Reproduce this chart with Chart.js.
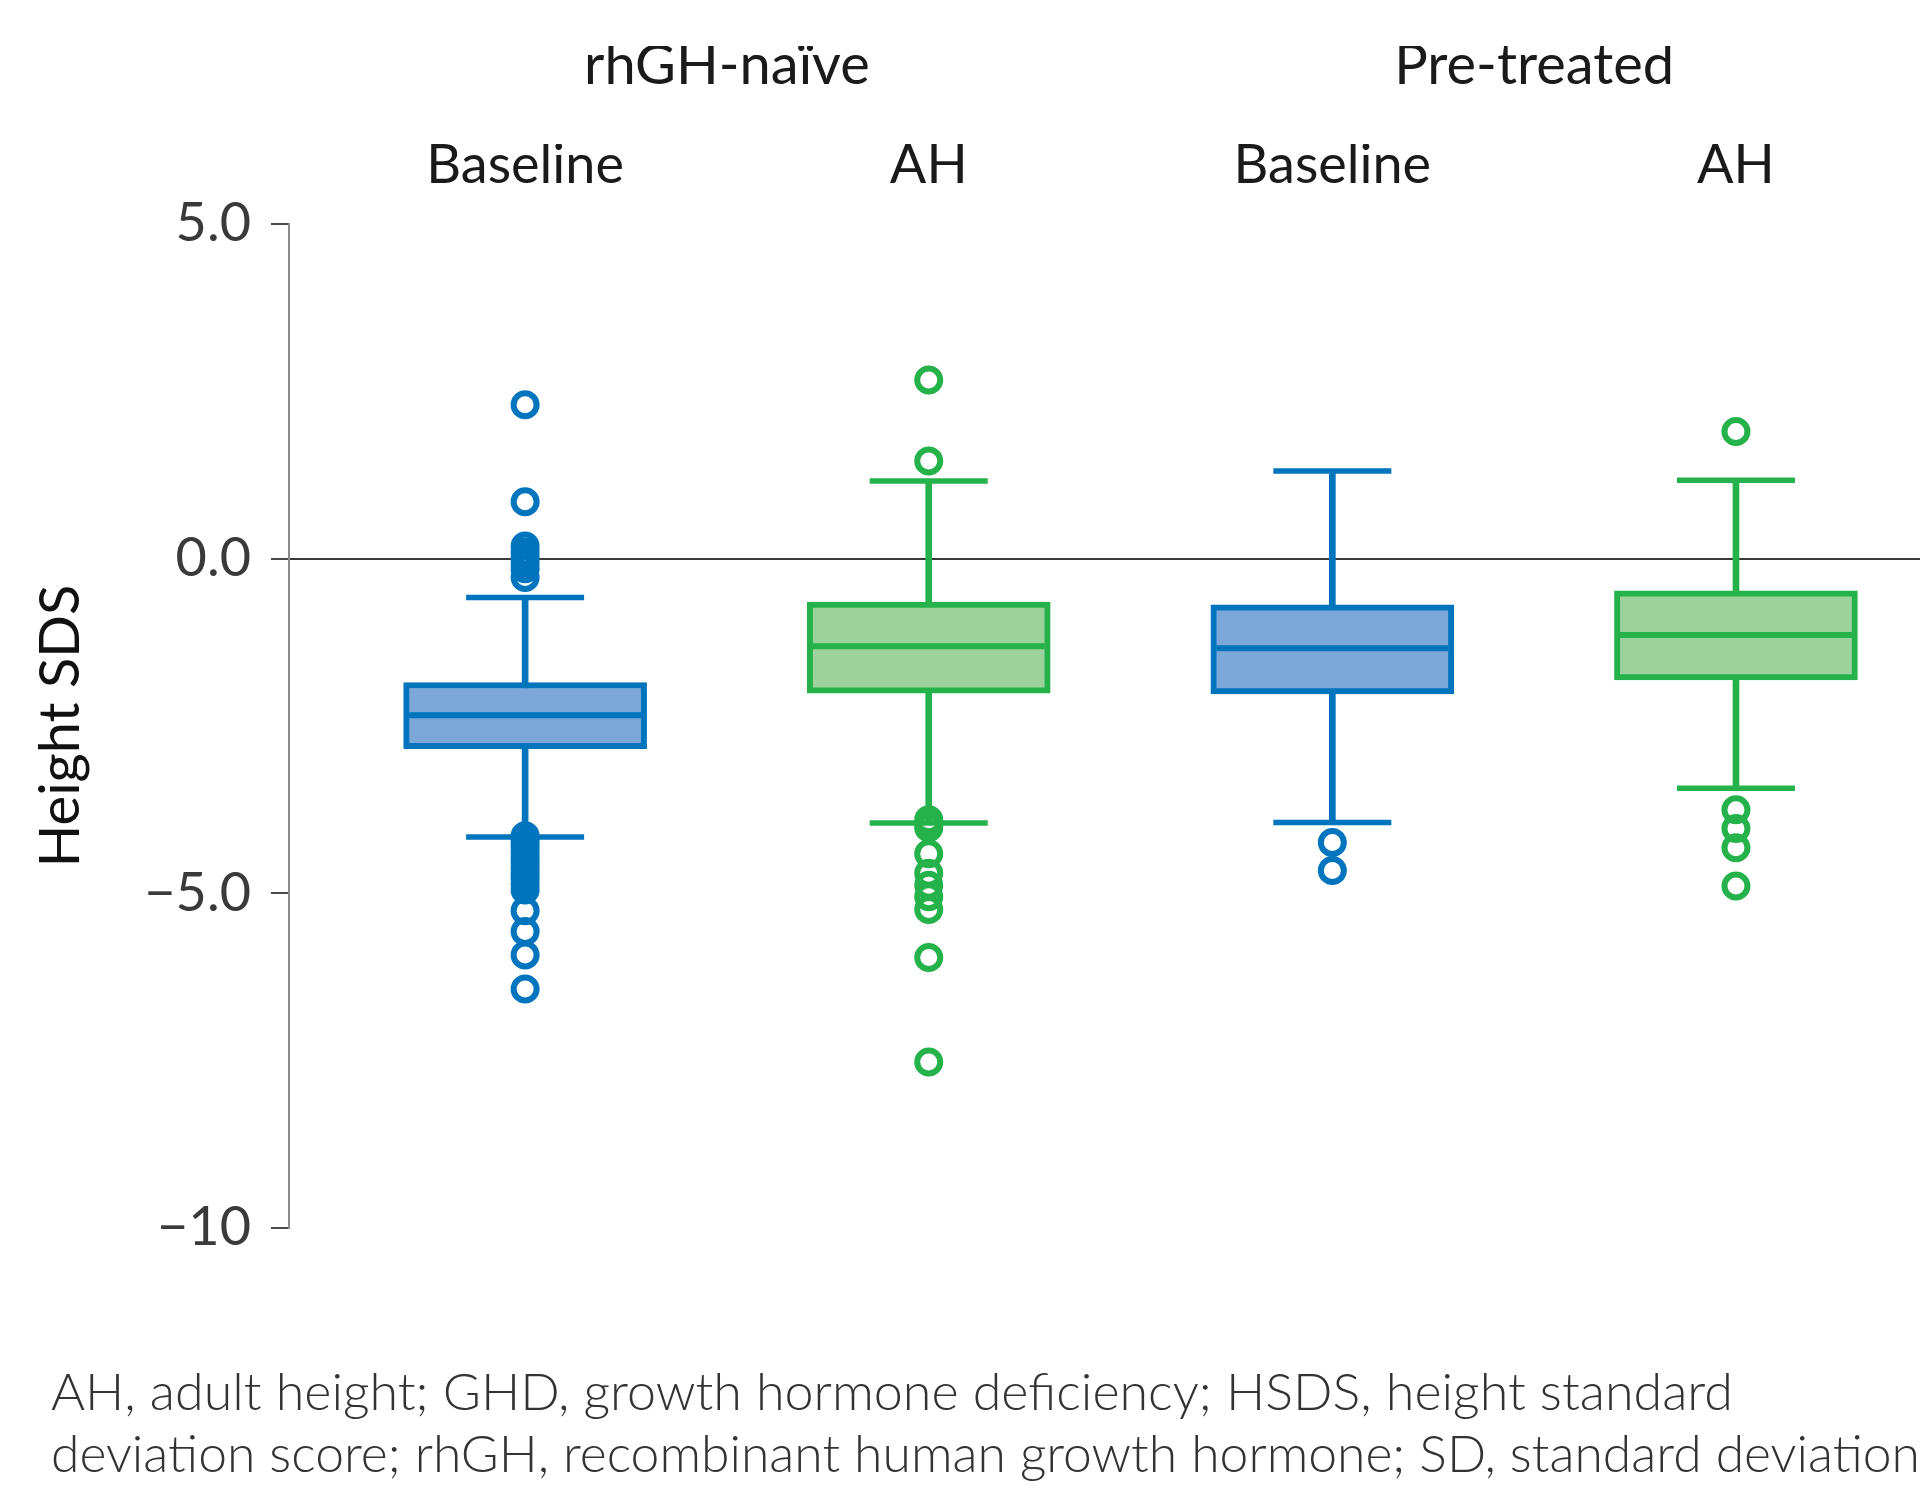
<!DOCTYPE html>
<html>
<head>
<meta charset="utf-8">
<script src="https://cdn.jsdelivr.net/npm/chart.js@4/dist/chart.umd.min.js"></script>
<style>
  html, body { margin: 0; padding: 0; background: #fff; }
  canvas { display: block; }
</style>
</head>
<body>
<canvas id="box-chart" width="1920" height="1486"></canvas>
<script>
const categories = ["Baseline", "AH", "Baseline", "AH"];
const groups = ["rhGH-naïve", "Pre-treated"];

const whiskerLow = [-4.16, -3.95, -3.94, -3.43];
const q1 = [-2.84, -2.01, -2.02, -1.81];
const median = [-2.34, -1.31, -1.34, -1.14];
const q3 = [-1.85, -0.65, -0.69, -0.48];
const whiskerHigh = [-0.58, 1.16, 1.31, 1.17];

const outliersNaiveBaseline = [2.30, 0.85, 0.19, 0.10, 0.02, -0.06, -0.15, -0.28,
  -4.14, -4.22, -4.30, -4.38, -4.46, -4.54, -4.62, -4.70, -4.78, -4.86, -4.95,
  -5.26, -5.57, -5.92, -6.43];
const outliersNaiveAH = [2.67, 1.46, -3.90, -3.96, -4.02, -4.41, -4.70, -4.88, -5.05, -5.24, -5.96, -7.52];
const outliersPreBaseline = [-4.24, -4.66];
const outliersPreAH = [1.90, -3.75, -4.03, -4.32, -4.89];
const outliers = [outliersNaiveBaseline, outliersNaiveAH, outliersPreBaseline, outliersPreAH];

const yTickValues = [5, 0, -5, -10];
const yTickLabels = ["5.0", "0.0", "\u22125.0", "\u221210"];

const footnote = [
  "AH, adult height; GHD, growth hormone deficiency; HSDS, height standard",
  "deviation score; rhGH, recombinant human growth hormone; SD, standard deviation"
];

const lineColors = ["#0074bc", "#25b24a", "#0074bc", "#25b24a"];
const fillColors = ["#7ba8d9", "#9dd29d", "#7ba8d9", "#9dd29d"];

const idx = categories.map((c, i) => i);

const capPoints = [], capColors = [];
idx.forEach(i => {
  capPoints.push({x: i, y: whiskerLow[i]}, {x: i, y: whiskerHigh[i]});
  capColors.push(lineColors[i], lineColors[i]);
});

const outlierPoints = [], outlierColors = [];
idx.forEach(i => {
  outliers[i].forEach(v => {
    outlierPoints.push({x: i, y: v});
    outlierColors.push(lineColors[i]);
  });
});

const xMin = -0.585, xMax = 3.456;

const noSidePadding = s => { s.paddingLeft = 0; s.paddingRight = 0; };

new Chart(document.getElementById("box-chart"), {
  type: 'bar',
  data: {
    datasets: [{
        type: "scatter",
        label: "Outliers",
        data: outlierPoints,
        pointStyle: "circle",
        pointRadius: 11.5,
        pointBorderWidth: 6,
        pointBorderColor: outlierColors,
        pointBackgroundColor: "rgba(0,0,0,0)",
        showLine: false,
        order: 1
      }, {
        type: "scatter",
        label: "Median",
        data: idx.map(i => ({x: i, y: median[i]})),
        pointStyle: "line",
        pointRadius: 116,
        pointBorderWidth: 6,
        pointBorderColor: lineColors,
        showLine: false,
        order: 2
      }, {
        type: "scatter",
        label: "Caps",
        data: capPoints,
        pointStyle: "line",
        pointRadius: 59,
        pointBorderWidth: 5.5,
        pointBorderColor: capColors,
        showLine: false,
        order: 3
      }, {
        type: "bar",
        label: "IQR",
        data: idx.map(i => ({x: i, y: [q1[i], q3[i]]})),
        backgroundColor: fillColors,
        borderColor: lineColors,
        borderWidth: 6,
        borderSkipped: false,
        barThickness: 243,
        grouped: false,
        order: 4
      }, {
        type: "bar",
        label: "Whiskers",
        data: idx.map(i => ({x: i, y: [whiskerLow[i], whiskerHigh[i]]})),
        backgroundColor: lineColors,
        borderWidth: 0,
        barThickness: 6,
        grouped: false,
        order: 5
      }
    ]
  },
  options: {
    responsive: false,
    animation: false,
    events: [],
    layout: { autoPadding: false, padding: { top: 46, left: 51, right: 0, bottom: 0 } },
    scales: {
      x: {
        type: "linear",
        position: "top",
        offset: false,
        min: xMin,
        max: xMax,
        grid: { display: false },
        border: { display: false },
        afterBuildTicks: s => { s.ticks = idx.map(i => ({value: i})); },
        afterFit: s => { s.height = 80; noSidePadding(s); },
        ticks: {
          autoSkip: false,
          maxRotation: 0,
          padding: 18,
          color: "#1a1a1a",
          font: { family: "Lato", size: 54 },
          callback: (v, i) => categories[i]
        }
      },
      groups: {
        type: "linear",
        position: "top",
        offset: false,
        weight: 1,
        min: xMin,
        max: xMax,
        grid: { display: false },
        border: { display: false },
        afterBuildTicks: s => { s.ticks = [{value: 0.5}, {value: 2.5}]; },
        afterFit: s => { s.height = 98; noSidePadding(s); },
        ticks: {
          autoSkip: false,
          maxRotation: 0,
          padding: 36,
          color: "#1a1a1a",
          font: { family: "Lato", size: 56 },
          callback: (v, i) => groups[i]
        }
      },
      y: {
        min: -10,
        max: 5,
        afterBuildTicks: s => { s.ticks = yTickValues.map(v => ({value: v})); },
        afterFit: s => { s.width = 238; },
        grid: {
          color: c => c.tick && c.tick.value === 0 ? "#3a3a3a" : "rgba(0,0,0,0)",
          lineWidth: 2,
          tickColor: "#4a4a4a",
          tickLength: 18,
          tickWidth: 2
        },
        border: { display: true, color: "#8a8a8a", width: 2 },
        ticks: {
          padding: 20,
          color: "#3a3a3a",
          font: { family: "Lato", size: 54 },
          callback: (v, i) => yTickLabels[i]
        },
        title: {
          display: true,
          text: "Height SDS",
          color: "#111111",
          padding: 0,
          font: { family: "Lato", size: 56, lineHeight: 0.36 }
        }
      }
    },
    plugins: {
      legend: { display: false },
      tooltip: { enabled: false },
      title: {
        display: true,
        position: "bottom",
        align: "start",
        text: footnote,
        color: "#333333",
        padding: { top: 134, bottom: 0 },
        font: { family: "Lato", size: 52, weight: 300, lineHeight: 62 / 52 }
      }
    }
  }
})
</script>
</body>
</html>
